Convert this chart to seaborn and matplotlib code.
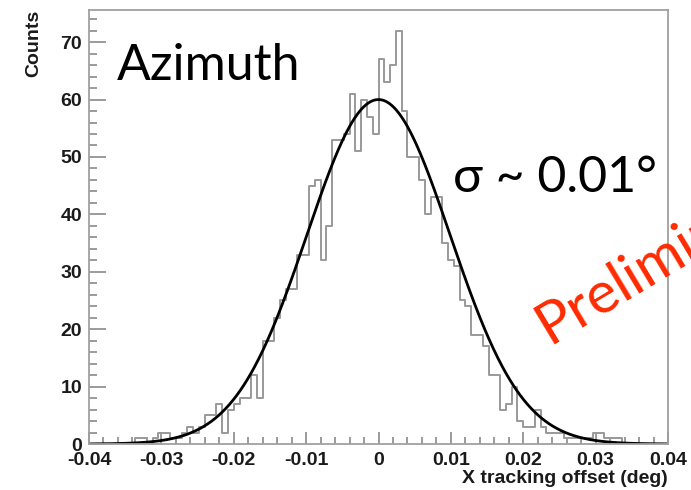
import numpy as np
import pandas as pd
import matplotlib.pyplot as plt
import seaborn as sns
from matplotlib.ticker import MultipleLocator, FuncFormatter

# histogram: 100 bins from -0.04 to 0.04 deg
bin_lo = -0.04
bin_hi = 0.04
n_bins = 100
counts = [0, 0, 0, 0, 0, 0, 0, 0, 1, 1,
          0, 1, 2, 2, 1, 1, 2, 3, 2, 3,
          5, 5, 7, 2, 6, 7, 8, 8, 12, 8,
          18, 18, 22, 25, 27, 27, 33, 33, 45, 46,
          32, 38, 53, 53, 54, 61, 51, 60, 57, 54,
          67, 63, 66, 72, 58, 50, 50, 46, 40, 43,
          43, 35, 32, 31, 25, 24, 19, 19, 17, 12,
          12, 6, 7, 10, 4, 3, 3, 6, 3, 2,
          2, 2, 1, 1, 1, 1, 1, 2, 2, 1,
          1, 1, 0, 0, 0, 0, 0, 0, 0, 0]

# gaussian fit parameters
fit_amp = 60.0
fit_mean = 0.0
fit_sigma = 0.0099

edges = np.linspace(bin_lo, bin_hi, n_bins + 1)
centers = (edges[:-1] + edges[1:]) / 2
df = pd.DataFrame({"offset": centers, "counts": counts})

xs = np.linspace(bin_lo, bin_hi, 801)
df_fit = pd.DataFrame({"offset": xs,
                       "fit": fit_amp * np.exp(-0.5 * ((xs - fit_mean) / fit_sigma) ** 2)})

sns.set_theme(style="white")
plt.rcParams['font.family'] = ['Liberation Sans', 'DejaVu Sans']

fig = plt.figure(figsize=(6.91, 4.90), dpi=100)
ax = fig.add_axes([89 / 691, 46 / 490, 579 / 691, 434 / 490])

sns.histplot(data=df, x="offset", weights="counts", bins=n_bins, binrange=(bin_lo, bin_hi),
             element="step", fill=False, color="#999999", linewidth=1.4, ax=ax)
sns.lineplot(data=df_fit, x="offset", y="fit", color="black", linewidth=2, ax=ax)

ax.set_xlim(bin_lo, bin_hi)
ax.set_ylim(0, 75.6)
ax.set_xlabel("")
ax.set_ylabel("")

ax.xaxis.set_major_locator(MultipleLocator(0.01))
ax.xaxis.set_minor_locator(MultipleLocator(0.002))
ax.yaxis.set_major_locator(MultipleLocator(10))
ax.yaxis.set_minor_locator(MultipleLocator(2))
ax.xaxis.set_major_formatter(FuncFormatter(lambda v, p: "0" if abs(v) < 1e-9 else f"{v:.2f}"))
ax.yaxis.set_major_formatter(FuncFormatter(lambda v, p: f"{v:.0f}"))

ax.tick_params(which="both", direction="in", color="#8a8a8a", width=1.2,
               bottom=True, left=True, top=False, right=False,
               labelsize=14, labelcolor="#1a1a1a")
ax.tick_params(axis="x", which="major", length=9, pad=6)
ax.tick_params(axis="x", which="minor", length=5)
ax.tick_params(axis="y", which="major", length=12, pad=5)
ax.tick_params(axis="y", which="minor", length=6)
for lab in ax.get_xticklabels() + ax.get_yticklabels():
    lab.set_fontweight("bold")

for s in ax.spines.values():
    s.set_color("#a0a0a0")
    s.set_linewidth(1.3)

fig.text(33.5 / 691, 1 - 10 / 490, "Counts", rotation=90, ha="center", va="top",
         fontsize=14, fontweight="bold", color="#1a1a1a")
fig.text(668 / 691, 1 - 478 / 490, "X tracking offset (deg)", ha="right", va="center",
         fontsize=14, fontweight="bold", color="#1a1a1a")

big = ['Lato', 'Open Sans', 'DejaVu Sans']
fig.text(117 / 691, 1 - 80 / 490, "Azimuth", family=big, fontsize=36,
         ha="left", va="baseline", color="black")
fig.text(453 / 691, 1 - 192 / 490, "σ ~ 0.01°", family=big, fontsize=36,
         ha="left", va="baseline", color="black")
fig.text(549 / 691, 1 - 344 / 490, "Preliminary", family=big, fontsize=42,
         color="#ff2a00", rotation=31, rotation_mode="anchor", ha="left", va="baseline")

fig.savefig("out.png", dpi=100)
